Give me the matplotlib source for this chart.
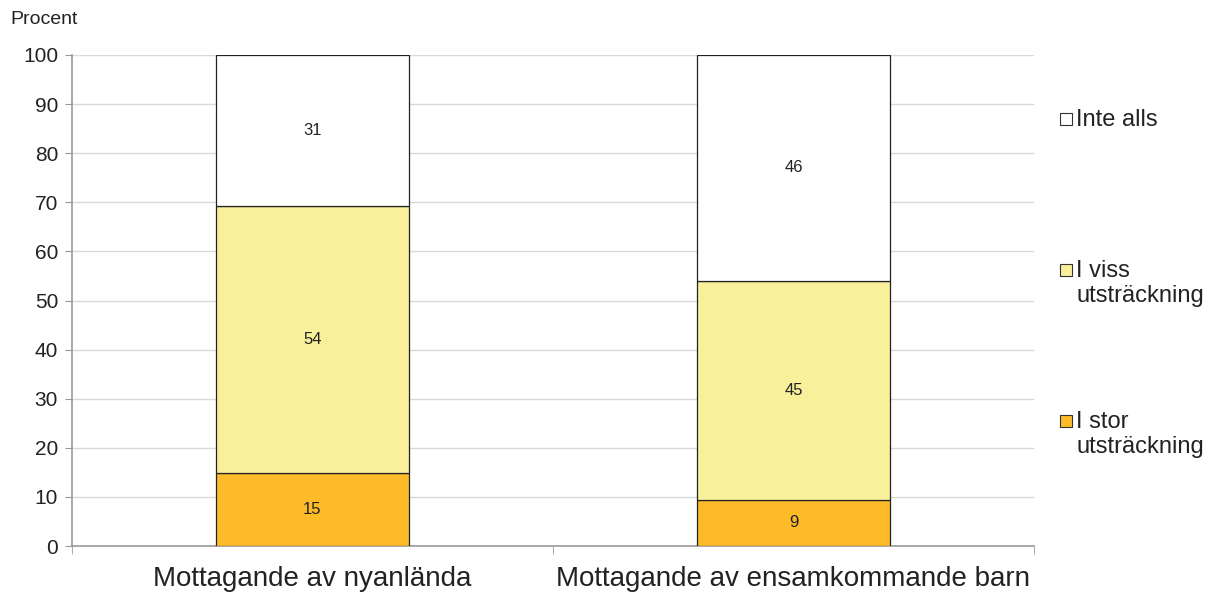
import matplotlib.pyplot as plt
from matplotlib.patches import Rectangle
import numpy as np

plt.rcParams['font.family'] = ['Liberation Sans', 'DejaVu Sans']

categories = ['Mottagande av nyanlända', 'Mottagande av ensamkommande barn']
series_names = ['I stor\nutsträckning', 'I viss\nutsträckning', 'Inte alls']
stor = [14.9, 9.4]
viss = [54.3, 44.6]
inte = [30.8, 46.0]
colors = ['#fdbb2a', '#f8f09a', '#ffffff']

fig = plt.figure(figsize=(12.08, 5.94), dpi=100)
ax = fig.add_axes([72 / 1208, 48 / 594, 962 / 1208, 491 / 594])

x = np.arange(len(categories))
bottom = np.zeros(len(categories))
for vals, col in zip([stor, viss, inte], colors):
    vals = np.array(vals)
    bars = ax.bar(x, vals, 0.4, bottom=bottom, color=col, edgecolor='#222222',
                  linewidth=0.9, zorder=3)
    for b, v, bt in zip(bars, vals, bottom):
        ax.text(b.get_x() + b.get_width() / 2, bt + v / 2, f'{v:.0f}',
                ha='center', va='center', fontsize=12, color='#222222', zorder=4)
    bottom = bottom + vals

ax.set_xlim(-0.5, 1.5)
ax.set_ylim(0, 100)
ax.set_yticks(range(0, 101, 10))
ax.yaxis.grid(True, color='#d9d9d9', linewidth=1, zorder=0)
ax.set_axisbelow(True)
ax.tick_params(axis='y', labelsize=15, colors='#222222', length=5, color='#999999', pad=5)

# category labels centred, tick marks at category boundaries
ax.set_xticks(x)
ax.set_xticklabels(categories, fontsize=20, color='#222222')
ax.tick_params(axis='x', length=0, pad=14.5)
ax.set_xticks([-0.5, 0.5, 1.5], minor=True)
ax.tick_params(axis='x', which='minor', length=6, color='#999999')

for s in ['top', 'right']:
    ax.spines[s].set_visible(False)
for s in ['left', 'bottom']:
    ax.spines[s].set_color('#999999')
    ax.spines[s].set_linewidth(1.2)

fig.text(10 / 1208, 1 - 19 / 594, 'Procent', fontsize=14, color='#222222', va='center')

# legend, top entry first
leg_y = [119, 270, 421]
for name, col, yy in zip(series_names[::-1], colors[::-1], leg_y):
    fig.patches.append(Rectangle((1060 / 1208, 1 - (yy + 6) / 594), 12 / 1208, 12 / 594,
                                 transform=fig.transFigure, facecolor=col,
                                 edgecolor='#333333', linewidth=0.8))
    fig.text(1076 / 1208, 1 - (yy - 10) / 594, name, fontsize=17, color='#222222',
             va='top', linespacing=1.2)

fig.savefig('out.png', dpi=100)
